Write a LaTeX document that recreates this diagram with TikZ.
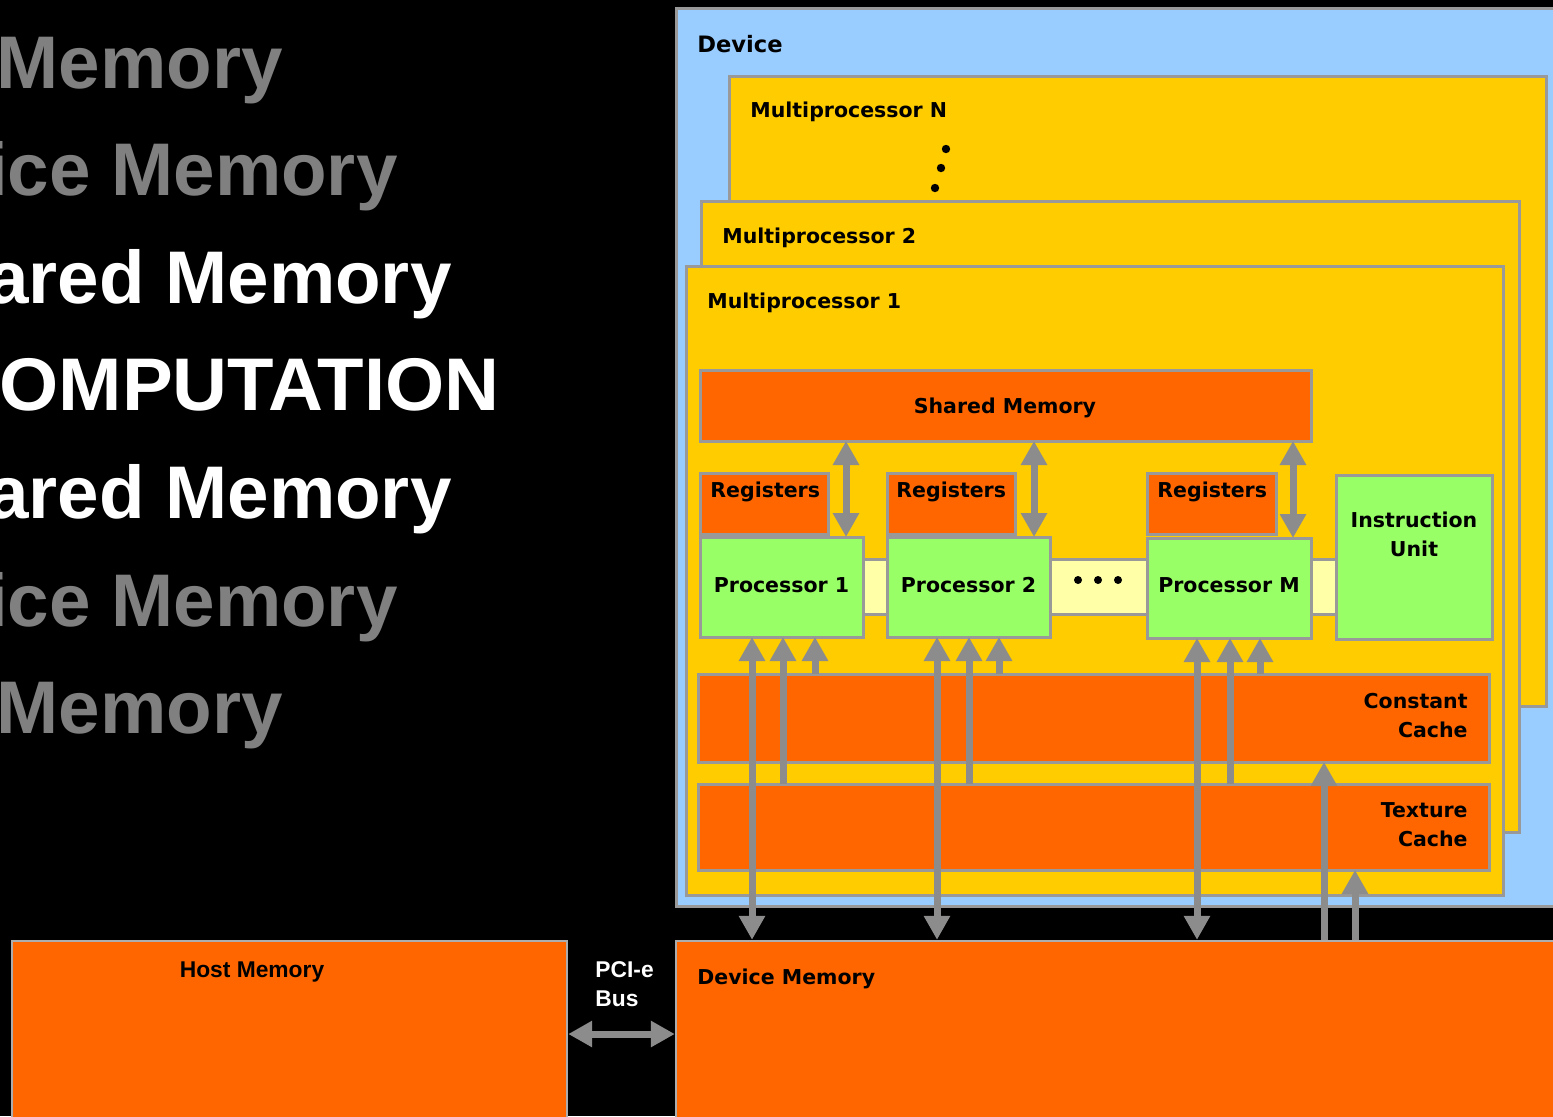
\documentclass[tikz,border=0pt]{standalone}
\usepackage{fontspec}
\setmainfont{DejaVu Sans}
\newfontfamily\arialf{Liberation Sans}
\usetikzlibrary{arrows.meta,fit}
\definecolor{devblue}{HTML}{99CCFF}
\definecolor{mpyel}{HTML}{FFCC00}
\definecolor{memor}{HTML}{FF6600}
\definecolor{procgr}{HTML}{99FF66}
\definecolor{paleyel}{HTML}{FFFFA8}
\definecolor{brd}{HTML}{999999}
\definecolor{arrg}{HTML}{8C8C8C}
\definecolor{txtgray}{HTML}{808080}
\begin{document}
\begin{tikzpicture}[x=0.5pt,y=-0.5pt,
  box/.style={draw=brd, line width=1.5pt, inner sep=0pt, outer sep=0pt},
  lbl/.style={inner sep=0pt, font=\bfseries\fontsize{10.25}{12}\selectfont, text=black},
  albl/.style={inner sep=0pt, font=\arialf\bfseries\fontsize{11.4}{13}\selectfont},
  big/.style={inner sep=0pt, anchor=base east, font=\arialf\bfseries\fontsize{37.3}{40}\selectfont},
  tipa/.tip={Triangle[length=12pt,width=12.5pt]},
  arr/.style={draw=arrg, line width=3.5pt, -tipa},
  darr/.style={draw=arrg, line width=3.5pt, tipa-tipa},
]
\useasboundingbox (0,0) rectangle (1553,1116);
\clip (0,0) rectangle (1553,1116);
\fill[black] (0,0) rectangle (1553,1116);

% left big text
\node[big, text=txtgray] (t1) at (283,88) {Memory};
\node[big, text=txtgray] (t2) at (398,195) {ice Memory};
\node[big, text=white] (t3) at (452,303) {ared Memory};
\node[big, text=white, xscale=1.02] (t4) at (500,410) {OMPUTATION};
\node[big, text=white] (t5) at (452,518) {ared Memory};
\node[big, text=txtgray] (t6) at (398,626) {ice Memory};
\node[big, text=txtgray] (t7) at (283,733) {Memory};

% device and multiprocessors
\node[box, fill=devblue, fit={(676,8) (1590,906)}] (device) {};
\node[lbl, anchor=base west, font=\bfseries\fontsize{11.3}{13}\selectfont] (devl) at (697,52) {Device};
\node[box, fill=mpyel, fit={(729,76) (1546,706)}] (mpN) {};
\node[lbl, anchor=base west] (mpNl) at (750,117) {Multiprocessor N};
\fill (946,149) circle (4.2);
\fill (941,168) circle (4.2);
\fill (935,188) circle (4.2);
\node[box, fill=mpyel, fit={(701,201) (1519,832)}] (mp2) {};
\node[lbl, anchor=base west] (mp2l) at (722,243) {Multiprocessor 2};
\node[box, fill=mpyel, fit={(686,266) (1503,895)}] (mp1) {};
\node[lbl, anchor=base west] (mp1l) at (707,308) {Multiprocessor 1};

% shared memory
\node[box, fill=memor, fit={(700,370) (1311,441)}] (shm) {};
\node[lbl, anchor=base] (shml) at (1005,413) {Shared Memory};

% registers
\node[box, fill=memor, fit={(700,473) (828,534)}] (r1) {};
\node[box, fill=memor, fit={(887,473) (1015,534)}] (r2) {};
\node[box, fill=memor, fit={(1147,473) (1276,534)}] (rM) {};
\node[lbl, anchor=base west] (r1l) at (710,497) {Registers};
\node[lbl, anchor=base west] (r2l) at (896,497) {Registers};
\node[lbl, anchor=base west] (rMl) at (1157,497) {Registers};

% bus strip and processors
\node[box, fill=paleyel, fit={(850,559) (1345,614)}] (strip) {};
\node[box, fill=procgr, fit={(700,537) (863,637)}] (p1) {};
\node[box, fill=procgr, fit={(887,537) (1050,637)}] (p2) {};
\node[box, fill=procgr, fit={(1147,538) (1311,638)}] (pM) {};
\node[box, fill=procgr, fit={(1336,475) (1492,639)}] (iu) {};
\node[lbl, anchor=base] (p1l) at (781.5,592) {Processor 1};
\node[lbl, anchor=base] (p2l) at (968.5,592) {Processor 2};
\node[lbl, anchor=base] (pMl) at (1229,592) {Processor M};
\node[lbl, anchor=base] (iul1) at (1414,527) {Instruction};
\node[lbl, anchor=base] (iul2) at (1414,556) {Unit};
\fill (1078,580) circle (4);
\fill (1098,580) circle (4);
\fill (1118,580) circle (4);

% caches
\node[box, fill=memor, fit={(698,674) (1489,762)}] (cc) {};
\node[lbl, anchor=base east] (ccl1) at (1468,708) {Constant};
\node[lbl, anchor=base east] (ccl2) at (1468,737) {Cache};
\node[box, fill=memor, fit={(698,784) (1489,870)}] (tc) {};
\node[lbl, anchor=base east] (tcl1) at (1468,817) {Texture};
\node[lbl, anchor=base east] (tcl2) at (1468,846) {Cache};

% memories
\node[draw=brd!80!white, line width=1.2pt, inner sep=0pt, fill=memor, fit={(676,941) (1590,1140)}] (dm) {};
\node[lbl, anchor=base west] (dml) at (697,984) {Device Memory};
\node[draw=brd!80!white, line width=1.2pt, inner sep=0pt, fill=memor, fit={(12,941) (567,1140)}] (hm) {};
\node[albl, anchor=base] (hml) at (252,977) {Host Memory};
\node[albl, anchor=base west, text=white] (pci1) at (595,977) {PCI-e};
\node[albl, anchor=base west, text=white] (pci2) at (595,1006) {Bus};

% x positions of connectors
\coordinate (a1) at (846,0);
\coordinate (a2) at (1034,0);
\coordinate (a3) at (1293,0);
\coordinate (b1) at (752,0);
\coordinate (b2) at (783,0);
\coordinate (b3) at (815,0);
\coordinate (c1) at (937,0);
\coordinate (c2) at (969,0);
\coordinate (c3) at (999,0);
\coordinate (d1) at (1197,0);
\coordinate (d2) at (1230,0);
\coordinate (d3) at (1260,0);
\coordinate (e1) at (1324,0);
\coordinate (e2) at (1355,0);
\coordinate (pciy) at (0,1034);

% shared memory <-> processors
\draw[darr] (shm.south -| a1) -- (p1.north -| a1);
\draw[darr] (shm.south -| a2) -- (p2.north -| a2);
\draw[darr] (shm.south -| a3) -- (pM.north -| a3);

% processors <-> device memory, caches -> processors
\draw[darr] (p1.south -| b1) -- (dm.north -| b1);
\draw[arr] (tc.north -| b2) -- (p1.south -| b2);
\draw[arr] (cc.north -| b3) -- (p1.south -| b3);
\draw[darr] (p2.south -| c1) -- (dm.north -| c1);
\draw[arr] (tc.north -| c2) -- (p2.south -| c2);
\draw[arr] (cc.north -| c3) -- (p2.south -| c3);
\draw[darr] (pM.south -| d1) -- (dm.north -| d1);
\draw[arr] (tc.north -| d2) -- (pM.south -| d2);
\draw[arr] (cc.north -| d3) -- (pM.south -| d3);

% device memory -> caches
\draw[arr] (dm.north -| e1) -- (cc.south -| e1);
\draw[arr] (dm.north -| e2) -- (tc.south -| e2);

% PCI-e bus
\draw[darr] (hm.east |- pciy) -- (dm.west |- pciy);
\end{tikzpicture}
\end{document}
